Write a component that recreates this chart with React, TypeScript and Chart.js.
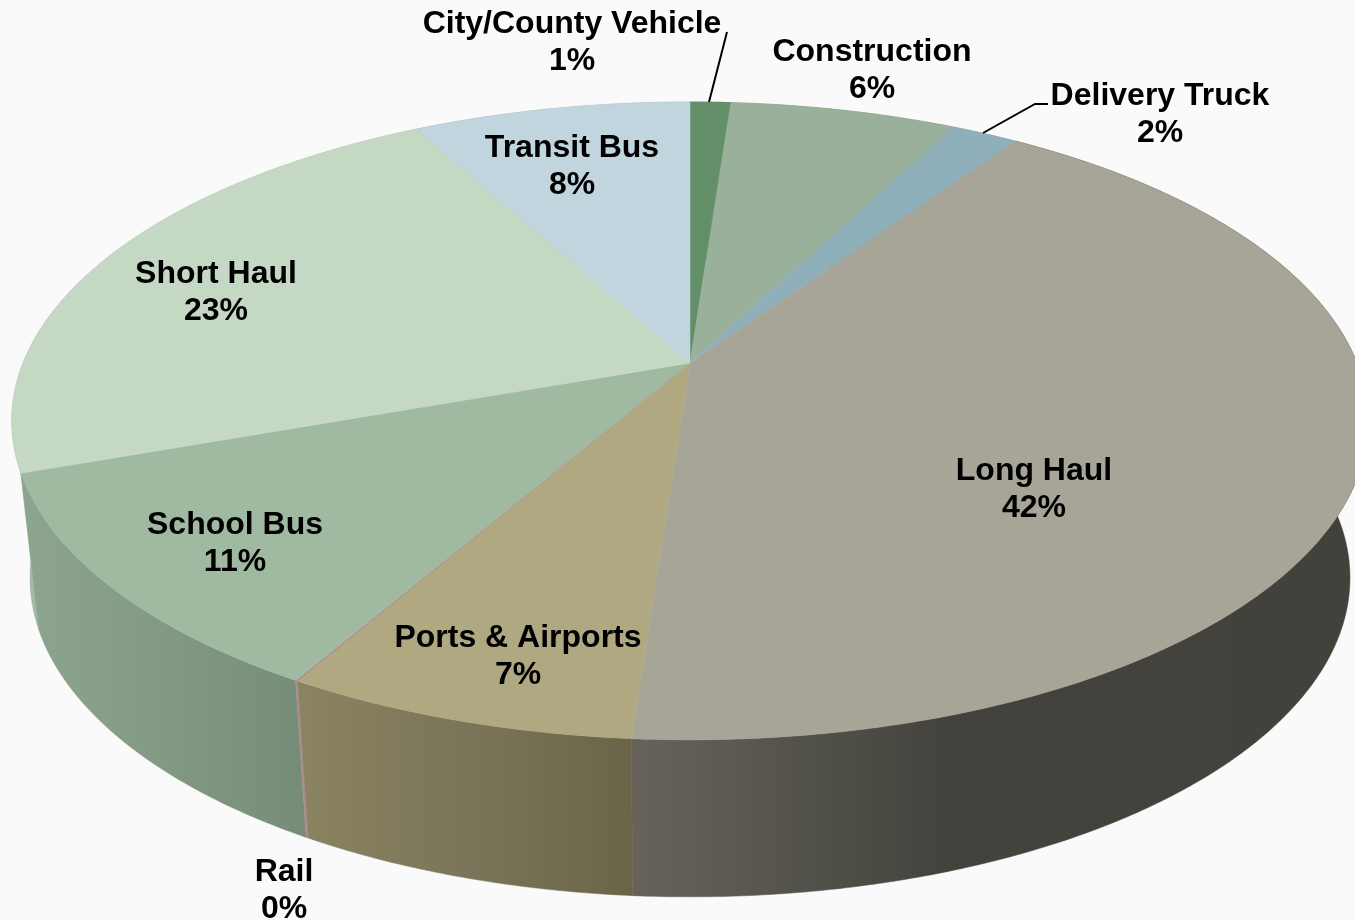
import React, { useEffect, useRef } from "react";
import Chart from "chart.js/auto";

const categories = ["City/County Vehicle", "Construction", "Delivery Truck", "Long Haul", "Ports & Airports", "Rail", "School Bus", "Short Haul", "Transit Bus"];
const shares = [1.15, 6.45, 1.9, 41.65, 7.1, 0.05, 11.25, 22.55, 7.9];
const topColors = ["#628f68", "#99b09a", "#8fb0bb", "#a7a598", "#b0a880", "#b08a8a", "#a0baa2", "#c5d8c4", "#c0d5dd"];
const wallColors: [number, string][][] = [
  [[0, "#4d7052"]],
  [[0, "#7a8d7b"]],
  [[0, "#728d96"]],
  [[0, "#67635a"], [0.1, "#5f5c53"], [0.24, "#52514a"], [0.43, "#44423c"], [1, "#43413b"]],
  [[0, "#8a8462"], [0.5, "#7b7559"], [1, "#6a6449"]],
  [[0, "#b08a90"]],
  [[0, "#8da48e"], [0.5, "#829a83"], [1, "#758c77"]],
  [[0, "#a3b8a6"]],
  [[0, "#9aabb1"]],
];

const textAnchors: [number, number][] = [
  [572, 22], [872, 50], [1160, 94], [1034, 469], [518, 636], [284, 870], [235, 523], [216, 272], [572, 146],
];
const leaderLines: [number, number][][] = [
  [[727, 32], [709, 102]],
  [[983, 133], [1035, 104], [1048, 104]],
];

const TOP = { cx: 690, cy: 363, a: 667, b: 308.4, k: 0.1816 };
const BOTTOM = { cx: 690, cy: 520, a: 649, b: 308.4, k: 0.1816 };
const BACKGROUND = "#fafafa";
const LINE_STEP = 37.5;
const TEXT_NUDGE = 2;

type Rim = typeof TOP;
function project(rim: Rim, angle: number): [number, number] {
  const t = angle + Math.PI / 2;
  const x = Math.sin(t);
  const y = Math.cos(t);
  const d = 1 + rim.k * y;
  return [rim.cx + (rim.a * x) / d, rim.cy - (rim.b * y) / d];
}
function arcPoints(rim: Rim, start: number, end: number): [number, number][] {
  const n = Math.max(2, Math.ceil((end - start) / (Math.PI / 360)));
  const out: [number, number][] = [];
  for (let i = 0; i <= n; i++) out.push(project(rim, start + ((end - start) * i) / n));
  return out;
}

const projectedPie = {
  id: "projectedPie",
  beforeDraw(chart: any) {
    const { ctx, width, height } = chart;
    ctx.save();
    ctx.fillStyle = BACKGROUND;
    ctx.fillRect(0, 0, width, height);
    ctx.restore();
  },
  beforeDatasetDraw(chart: any, args: any) {
    const { ctx } = chart;
    const arcs = args.meta.data as any[];
    const spans = arcs.map((el, i) => {
      const p = el.getProps(["startAngle", "endAngle"], true);
      return { i, start: p.startAngle, end: p.endAngle };
    });
    const distance = (s: any) => Math.abs((s.start + s.end) / 2 + Math.PI / 2 - Math.PI);
    const order = [...spans].sort((a, b) => distance(b) - distance(a));
    ctx.save();
    for (const s of order) {
      const up = arcPoints(TOP, s.start, s.end);
      const low = arcPoints(BOTTOM, s.start, s.end);
      const xs = [...up, ...low].map((p) => p[0]);
      const minX = Math.min(...xs);
      const maxX = Math.max(...xs);
      const g = ctx.createLinearGradient(minX, 0, maxX + 0.01, 0);
      const stops = wallColors[s.i];
      stops.forEach(([o, c]) => g.addColorStop(o, c));
      if (stops.length === 1) g.addColorStop(1, stops[0][1]);
      ctx.beginPath();
      up.forEach((p, j) => (j ? ctx.lineTo(p[0], p[1]) : ctx.moveTo(p[0], p[1])));
      [...low].reverse().forEach((p) => ctx.lineTo(p[0], p[1]));
      ctx.closePath();
      ctx.fillStyle = g;
      ctx.strokeStyle = g;
      ctx.lineWidth = 0.5;
      ctx.fill();
      ctx.stroke();
    }
    for (const s of spans) {
      const up = arcPoints(TOP, s.start, s.end);
      ctx.beginPath();
      ctx.moveTo(TOP.cx, TOP.cy);
      up.forEach((p) => ctx.lineTo(p[0], p[1]));
      ctx.closePath();
      ctx.fillStyle = topColors[s.i];
      ctx.strokeStyle = topColors[s.i];
      ctx.lineWidth = 0.5;
      ctx.fill();
      ctx.stroke();
    }
    ctx.restore();
    return false;
  },
  afterDatasetsDraw(chart: any) {
    const { ctx } = chart;
    const values = chart.data.datasets[0].data as number[];
    const total = values.reduce((a, b) => a + b, 0);
    ctx.save();
    ctx.strokeStyle = "#000000";
    ctx.lineWidth = 2;
    leaderLines.forEach((pts) => {
      ctx.beginPath();
      pts.forEach((p, j) => (j ? ctx.lineTo(p[0], p[1]) : ctx.moveTo(p[0], p[1])));
      ctx.stroke();
    });
    ctx.fillStyle = "#000000";
    ctx.font = 'bold 32px "Liberation Sans", Arial, sans-serif';
    ctx.textAlign = "center";
    ctx.textBaseline = "middle";
    (chart.data.labels as string[]).forEach((name, i) => {
      const [x, y] = textAnchors[i];
      ctx.fillText(name, x, y + TEXT_NUDGE);
      ctx.fillText(`${Math.round((values[i] / total) * 100)}%`, x, y + TEXT_NUDGE + LINE_STEP);
    });
    ctx.restore();
  },
};

export default function App() {
  const ref = useRef<HTMLCanvasElement>(null);
  useEffect(() => {
    if (!ref.current) return;
    const chart = new Chart(ref.current, {
      type: "pie",
      data: {
        labels: categories,
        datasets: [{ data: shares, backgroundColor: topColors, borderWidth: 0 }],
      },
      options: {
        animation: false,
        responsive: false,
        events: [],
        plugins: { legend: { display: false }, tooltip: { enabled: false } },
      },
      plugins: [projectedPie],
    } as any);
    return () => chart.destroy();
  }, []);
  return (
    <canvas
      ref={ref}
      width={1355}
      height={920}
      style={{ position: "fixed", left: 0, top: 0, width: 1355, height: 920, display: "block" }}
    />
  );
}
